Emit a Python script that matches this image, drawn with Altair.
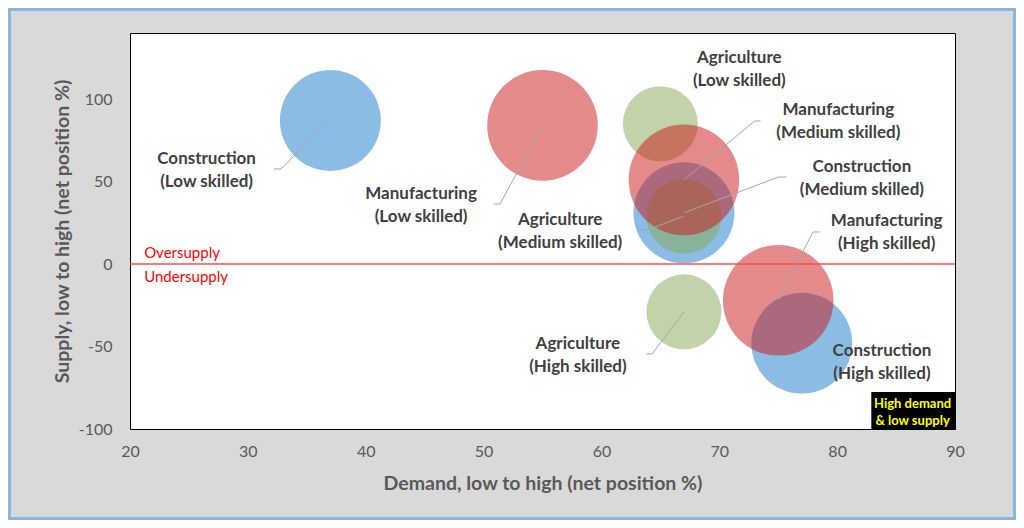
import altair as alt
import pandas as pd

# ---- data values ----
sector = ["Construction", "Construction", "Construction",
          "Agriculture", "Agriculture", "Agriculture",
          "Manufacturing", "Manufacturing", "Manufacturing"]
skill = ["Low", "Medium", "High"] * 3
demand = [37, 67, 77, 65, 67, 67, 55, 67, 75]
supply = [87, 31, -48, 85, 29, -29, 84, 51, -22]
bubble = [25, 25, 25, 13.8, 13.8, 13.8, 30, 30, 30]

# ---- annotation layout (label anchors and leader elbows, in data units) ----
label_x = [26.5, 82.1, 83.8, 71.7, 56.5, 58.0, 44.7, 80.1, 84.2]
label_y = [56.7, 52.1, -59.4, 117.9, 19.7, -55.5, 35.5, 86.4, 18.8]
elbow_x = [32.8, 75.0, None, None, 63.9, 64.3, 51.4, 73.0, 77.95]
elbow_y = [57.6, 52.7, None, None, 20.6, -54.5, 36.4, 86.7, 19.4]
end_x = [32.2, 75.7, None, None, 63.1, 63.8, 50.9, 73.5, 78.5]

x_ticks = [20, 30, 40, 50, 60, 70, 80, 90]
y_ticks = [-100, -50, 0, 50, 100]

sector_order = ["Construction", "Agriculture", "Manufacturing"]
sector_colors = ["#177bc9", "#87a753", "#cb1515"]

FONT = "Lato"

df = pd.DataFrame({
    "sector": sector, "skill": skill, "demand": demand, "supply": supply,
    "bubble": bubble,
    "order": [sector_order.index(s) for s in sector],
    "label": [f"{s}\n({k} skilled)" for s, k in zip(sector, skill)],
    "lx": label_x, "ly": label_y,
})

rows = []
for i in range(len(sector)):
    if elbow_x[i] is None:
        continue
    rows.append({"id": i, "seq": 0, "x": demand[i], "y": supply[i]})
    rows.append({"id": i, "seq": 1, "x": elbow_x[i], "y": elbow_y[i]})
    rows.append({"id": i, "seq": 2, "x": end_x[i], "y": elbow_y[i]})
leaders = pd.DataFrame(rows)

xs = alt.Scale(domain=[20, 90], nice=False, zero=False)
ys = alt.Scale(domain=[-100, 140], nice=False, zero=False)

x_axis = alt.Axis(values=x_ticks, title="Demand, low to high (net position %)",
                  grid=False, domain=False, ticks=False, tickSize=0, labelPadding=14,
                  labelFlush=False, labelExpr="datum.value + ''",
                  titleX=412.5, titleY=54, titleAlign="center", titleBaseline="middle")
y_axis = alt.Axis(values=y_ticks, title="Supply, low to high (net position %)",
                  grid=False, domain=False, ticks=False, tickSize=0, labelPadding=18,
                  labelFlush=False, labelExpr="datum.value + ''",
                  titleX=-68, titleY=198, titleAngle=-90, titleAlign="center",
                  titleBaseline="middle")

base = alt.Chart(df)

# Vega circle: radius = sqrt(size)/2, so size = (2r)^2
bubbles = base.mark_circle(opacity=0.5, stroke=None).encode(
    x=alt.X("demand:Q", scale=xs, axis=x_axis),
    y=alt.Y("supply:Q", scale=ys, axis=y_axis),
    size=alt.Size("bubble:Q", scale=alt.Scale(domain=[0, 30], range=[0, (2 * 55.3) ** 2]),
                  legend=None),
    color=alt.Color("sector:N", scale=alt.Scale(domain=sector_order, range=sector_colors),
                    legend=None),
    order=alt.Order("order:Q"),
)

zero_df = pd.DataFrame({"y": [0]})
zero_line = alt.Chart(zero_df).mark_rule(color="#ff4d4d", strokeWidth=1.5).encode(
    y=alt.Y("y:Q", scale=ys)
)

leader_lines = alt.Chart(leaders).mark_line(color="#a6a6a6", strokeWidth=1).encode(
    x=alt.X("x:Q", scale=xs),
    y=alt.Y("y:Q", scale=ys),
    detail="id:N",
    order="seq:Q",
)

labels = base.mark_text(font=FONT, fontSize=17, fontWeight="bold", color="#404040",
                        lineBreak="\n", lineHeight=23, align="center",
                        baseline="middle", dy=-11.5).encode(
    x=alt.X("lx:Q", scale=xs),
    y=alt.Y("ly:Q", scale=ys),
    text="label:N",
)

supply_notes = pd.DataFrame({"x": [21.2, 21.2], "y": [6.7, -7.9],
                             "t": ["Oversupply", "Undersupply"]})
notes = alt.Chart(supply_notes).mark_text(font=FONT, fontSize=15, color="#ff0000",
                                          align="left", baseline="middle").encode(
    x=alt.X("x:Q", scale=xs), y=alt.Y("y:Q", scale=ys), text="t:N"
)

box_df = pd.DataFrame({"x": [82.9], "x2": [90], "y": [-100], "y2": [-77.6],
                       "tx": [86.4], "ty": [-89.7], "t": ["High demand\n& low supply"]})
box = alt.Chart(box_df).mark_rect(color="black").encode(
    x=alt.X("x:Q", scale=xs), x2="x2:Q", y=alt.Y("y:Q", scale=ys), y2="y2:Q"
)
box_text = alt.Chart(box_df).mark_text(font=FONT, fontSize=13, fontWeight="bold",
                                       color="#ffff00", lineBreak="\n", lineHeight=17,
                                       align="center", baseline="middle", dy=-8.5).encode(
    x=alt.X("tx:Q", scale=xs), y=alt.Y("ty:Q", scale=ys), text="t:N"
)

frame = alt.Chart(zero_df).mark_rect(fill=None, stroke="#8db4e2", strokeWidth=3,
                                     clip=False).encode(
    x=alt.value(-120.5), x2=alt.value(884.5), y=alt.value(-23.5), y2=alt.value(485.5)
)

chart = alt.layer(
    bubbles, zero_line, leader_lines, labels, notes, box, box_text, frame
).properties(
    width=825, height=396,
    autosize=alt.AutoSizeParams(type="none"),
    padding={"left": 122, "top": 25, "right": 61, "bottom": 91},
    background="#d9d9d9",
).configure_view(
    fill="white", stroke="black", strokeWidth=1
).configure_axis(
    labelFont=FONT, labelFontSize=16, labelColor="#595959",
    titleFont=FONT, titleFontSize=19.5, titleFontWeight="bold", titleColor="#595959",
)

chart.save("out.html", embed_options={"renderer": "svg", "actions": False})
